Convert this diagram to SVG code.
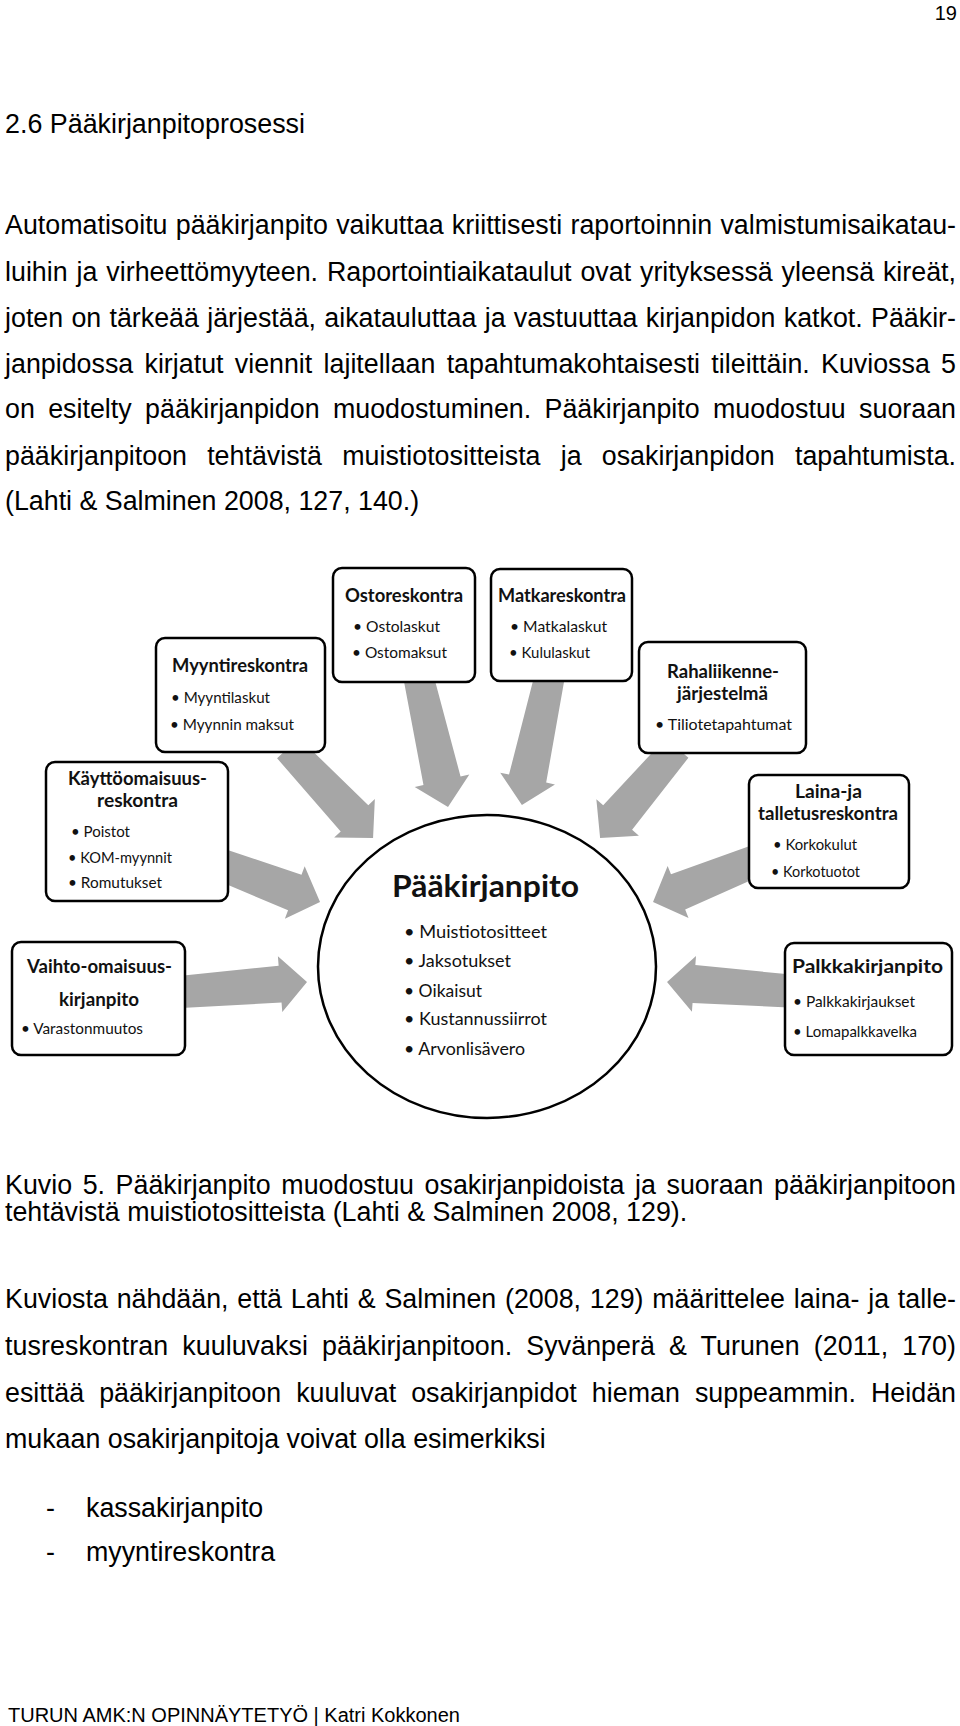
<svg xmlns="http://www.w3.org/2000/svg" width="960" height="1726" viewBox="0 0 960 1726">
<style>
.body{font-family:"Liberation Sans",Arial,sans-serif;font-size:26.8px;fill:#000}
.foot{font-family:"Liberation Sans",Arial,sans-serif;font-size:20px;fill:#000}
.box{fill:#fff;stroke:#000;stroke-width:2.5}
.arrow{fill:#a6a6a6}
.ttl{font-family:Lato,"Open Sans",sans-serif;font-weight:bold;font-size:18px;fill:#111}
.itm{font-family:Lato,"Open Sans",sans-serif;font-size:15px;fill:#111}
.big{font-family:Lato,"Open Sans",sans-serif;font-weight:bold;font-size:30px;fill:#111}
.citm{font-family:Lato,"Open Sans",sans-serif;font-size:17px;fill:#111}
</style>
<rect width="960" height="1726" fill="#fff"/>
<text class="foot" x="957" y="20" text-anchor="end">19</text>
<text class="body" x="5" y="133" textLength="300" lengthAdjust="spacingAndGlyphs">2.6 Pääkirjanpitoprosessi</text>
<g id="para1">
<text class="body" x="5" y="234" word-spacing="0.8" textLength="951" lengthAdjust="spacing">Automatisoitu pääkirjanpito vaikuttaa kriittisesti raportoinnin valmistumisaikatau-</text>
<text class="body" x="5" y="281" word-spacing="1.4" textLength="951" lengthAdjust="spacing">luihin ja virheettömyyteen. Raportointiaikataulut ovat yrityksessä yleensä kireät,</text>
<text class="body" x="5" y="327" word-spacing="0.8" textLength="951" lengthAdjust="spacing">joten on tärkeää järjestää, aikatauluttaa ja vastuuttaa kirjanpidon katkot. Pääkir-</text>
<text class="body" x="5" y="373" word-spacing="3.8" textLength="951" lengthAdjust="spacing">janpidossa kirjatut viennit lajitellaan tapahtumakohtaisesti tileittäin. Kuviossa 5</text>
<text class="body" x="5" y="418" word-spacing="5.9" textLength="951" lengthAdjust="spacing">on esitelty pääkirjanpidon muodostuminen. Pääkirjanpito muodostuu suoraan</text>
<text class="body" x="5" y="465" word-spacing="12.7" textLength="951" lengthAdjust="spacing">pääkirjanpitoon tehtävistä muistiotositteista ja osakirjanpidon tapahtumista.</text>
<text class="body" x="5" y="510">(Lahti &amp; Salminen 2008, 127, 140.)</text>
</g>
<g id="connectors">
<polygon class="arrow" transform="translate(418,675) rotate(77.2)" points="0,-15 108.4,-19 108.4,-28 135.4,0 108.4,28 108.4,19 0,15"/>
<polygon class="arrow" transform="translate(288,748) rotate(46.6)" points="0,-15 96.8,-19 96.8,-28 123.8,0 96.8,28 96.8,19 0,15"/>
<polygon class="arrow" transform="translate(222,865) rotate(20.7)" points="0,-16 77.8,-19 77.8,-28 104.8,0 77.8,28 77.8,19 0,16"/>
<polygon class="arrow" transform="translate(180,992) rotate(-4.5)" points="0,-16 100.4,-18.5 100.4,-28 127.4,0 100.4,28 100.4,18.5 0,16"/>
<polygon class="arrow" transform="translate(550,675) rotate(102.2)" points="0,-15 106,-19 106,-28 133,0 106,28 106,19 0,15"/>
<polygon class="arrow" transform="translate(677,748) rotate(130.5)" points="0,-15 91.4,-19 91.4,-28 118.4,0 91.4,28 91.4,19 0,15"/>
<polygon class="arrow" transform="translate(755,861) rotate(158.1)" points="0,-16 82.9,-19 82.9,-28 109.9,0 82.9,28 82.9,19 0,16"/>
<polygon class="arrow" transform="translate(790,991) rotate(184.2)" points="0,-16.5 96.3,-19 96.3,-28 123.3,0 96.3,28 96.3,19 0,16.5"/>
</g>
<g id="paakirjanpito">
<ellipse class="box" cx="487" cy="966.5" rx="169" ry="151.5"/>
<text class="big" x="392" y="897" textLength="187" lengthAdjust="spacingAndGlyphs">Pääkirjanpito</text>
<text class="citm" x="404" y="938" textLength="143" lengthAdjust="spacingAndGlyphs">• Muistiotositteet</text>
<text class="citm" x="404" y="967" textLength="107" lengthAdjust="spacingAndGlyphs">• Jaksotukset</text>
<text class="citm" x="404" y="997" textLength="78" lengthAdjust="spacingAndGlyphs">• Oikaisut</text>
<text class="citm" x="404" y="1025" textLength="143" lengthAdjust="spacingAndGlyphs">• Kustannussiirrot</text>
<text class="citm" x="404" y="1055" textLength="121" lengthAdjust="spacingAndGlyphs">• Arvonlisävero</text>
</g>
<g id="ostoreskontra">
<rect class="box" x="333" y="568" width="142" height="114" rx="9"/>
<text class="ttl" x="345" y="602" textLength="118" lengthAdjust="spacingAndGlyphs">Ostoreskontra</text>
<text class="itm" x="353" y="632" textLength="87" lengthAdjust="spacingAndGlyphs">• Ostolaskut</text>
<text class="itm" x="352" y="658" textLength="95" lengthAdjust="spacingAndGlyphs">• Ostomaksut</text>
</g>
<g id="myyntireskontra">
<rect class="box" x="156" y="638" width="169" height="114" rx="9"/>
<text class="ttl" x="172" y="672" textLength="136" lengthAdjust="spacingAndGlyphs">Myyntireskontra</text>
<text class="itm" x="171" y="703" textLength="99" lengthAdjust="spacingAndGlyphs">• Myyntilaskut</text>
<text class="itm" x="170" y="730" textLength="124" lengthAdjust="spacingAndGlyphs">• Myynnin maksut</text>
</g>
<g id="kayttoomaisuus">
<rect class="box" x="46" y="762" width="182" height="139" rx="9"/>
<text class="ttl" x="68" y="785" textLength="139" lengthAdjust="spacingAndGlyphs">Käyttöomaisuus-</text>
<text class="ttl" x="97" y="807" textLength="81" lengthAdjust="spacingAndGlyphs">reskontra</text>
<text class="itm" x="71" y="837" textLength="59" lengthAdjust="spacingAndGlyphs">• Poistot</text>
<text class="itm" x="68" y="863" textLength="104" lengthAdjust="spacingAndGlyphs">• KOM-myynnit</text>
<text class="itm" x="68" y="888" textLength="94" lengthAdjust="spacingAndGlyphs">• Romutukset</text>
</g>
<g id="vaihtoomaisuus">
<rect class="box" x="12" y="942" width="173" height="113" rx="9"/>
<text class="ttl" x="27" y="973" textLength="145" lengthAdjust="spacingAndGlyphs">Vaihto-omaisuus-</text>
<text class="ttl" x="59" y="1006" textLength="80" lengthAdjust="spacingAndGlyphs">kirjanpito</text>
<text class="itm" x="21" y="1034" textLength="122" lengthAdjust="spacingAndGlyphs">• Varastonmuutos</text>
</g>
<g id="matkareskontra">
<rect class="box" x="491" y="569" width="141" height="112" rx="9"/>
<text class="ttl" x="498" y="602" textLength="128" lengthAdjust="spacingAndGlyphs">Matkareskontra</text>
<text class="itm" x="510" y="632" textLength="97" lengthAdjust="spacingAndGlyphs">• Matkalaskut</text>
<text class="itm" x="509" y="658" textLength="81" lengthAdjust="spacingAndGlyphs">• Kululaskut</text>
</g>
<g id="rahaliikenne">
<rect class="box" x="639" y="642" width="167" height="111" rx="9"/>
<text class="ttl" x="667" y="678" textLength="112" lengthAdjust="spacingAndGlyphs">Rahaliikenne-</text>
<text class="ttl" x="677" y="700" textLength="91" lengthAdjust="spacingAndGlyphs">järjestelmä</text>
<text class="itm" x="655" y="730" textLength="137" lengthAdjust="spacingAndGlyphs">• Tiliotetapahtumat</text>
</g>
<g id="lainajatalletus">
<rect class="box" x="749" y="775" width="160" height="113" rx="9"/>
<text class="ttl" x="795" y="798" textLength="67" lengthAdjust="spacingAndGlyphs">Laina-ja</text>
<text class="ttl" x="758" y="820" textLength="140" lengthAdjust="spacingAndGlyphs">talletusreskontra</text>
<text class="itm" x="773" y="850" textLength="84" lengthAdjust="spacingAndGlyphs">• Korkokulut</text>
<text class="itm" x="771" y="877" textLength="89" lengthAdjust="spacingAndGlyphs">• Korkotuotot</text>
</g>
<g id="palkkakirjanpito">
<rect class="box" x="785" y="943" width="167" height="112" rx="9"/>
<text class="ttl" x="792" y="973" textLength="151" lengthAdjust="spacingAndGlyphs">Palkkakirjanpito</text>
<text class="itm" x="793" y="1007" textLength="122" lengthAdjust="spacingAndGlyphs">• Palkkakirjaukset</text>
<text class="itm" x="793" y="1037" textLength="124" lengthAdjust="spacingAndGlyphs">• Lomapalkkavelka</text>
</g>
<g id="caption">
<text class="body" x="5" y="1194" word-spacing="3.1" textLength="951" lengthAdjust="spacing">Kuvio 5. Pääkirjanpito muodostuu osakirjanpidoista ja suoraan pääkirjanpitoon</text>
<text class="body" x="5" y="1221">tehtävistä muistiotositteista (Lahti &amp; Salminen 2008, 129).</text>
</g>
<g id="para2">
<text class="body" x="5" y="1308" word-spacing="1.3" textLength="951" lengthAdjust="spacing">Kuviosta nähdään, että Lahti &amp; Salminen (2008, 129) määrittelee laina- ja talle-</text>
<text class="body" x="5" y="1355" word-spacing="6.5" textLength="951" lengthAdjust="spacing">tusreskontran kuuluvaksi pääkirjanpitoon. Syvänperä &amp; Turunen (2011, 170)</text>
<text class="body" x="5" y="1402" word-spacing="7.6" textLength="951" lengthAdjust="spacing">esittää pääkirjanpitoon kuuluvat osakirjanpidot hieman suppeammin. Heidän</text>
<text class="body" x="5" y="1448">mukaan osakirjanpitoja voivat olla esimerkiksi</text>
<text class="body" x="46" y="1517">-</text>
<text class="body" x="86" y="1517">kassakirjanpito</text>
<text class="body" x="46" y="1561">-</text>
<text class="body" x="86" y="1561">myyntireskontra</text>
</g>
<text class="foot" x="8" y="1722" textLength="452" lengthAdjust="spacingAndGlyphs">TURUN AMK:N OPINNÄYTETYÖ | Katri Kokkonen</text>
</svg>
